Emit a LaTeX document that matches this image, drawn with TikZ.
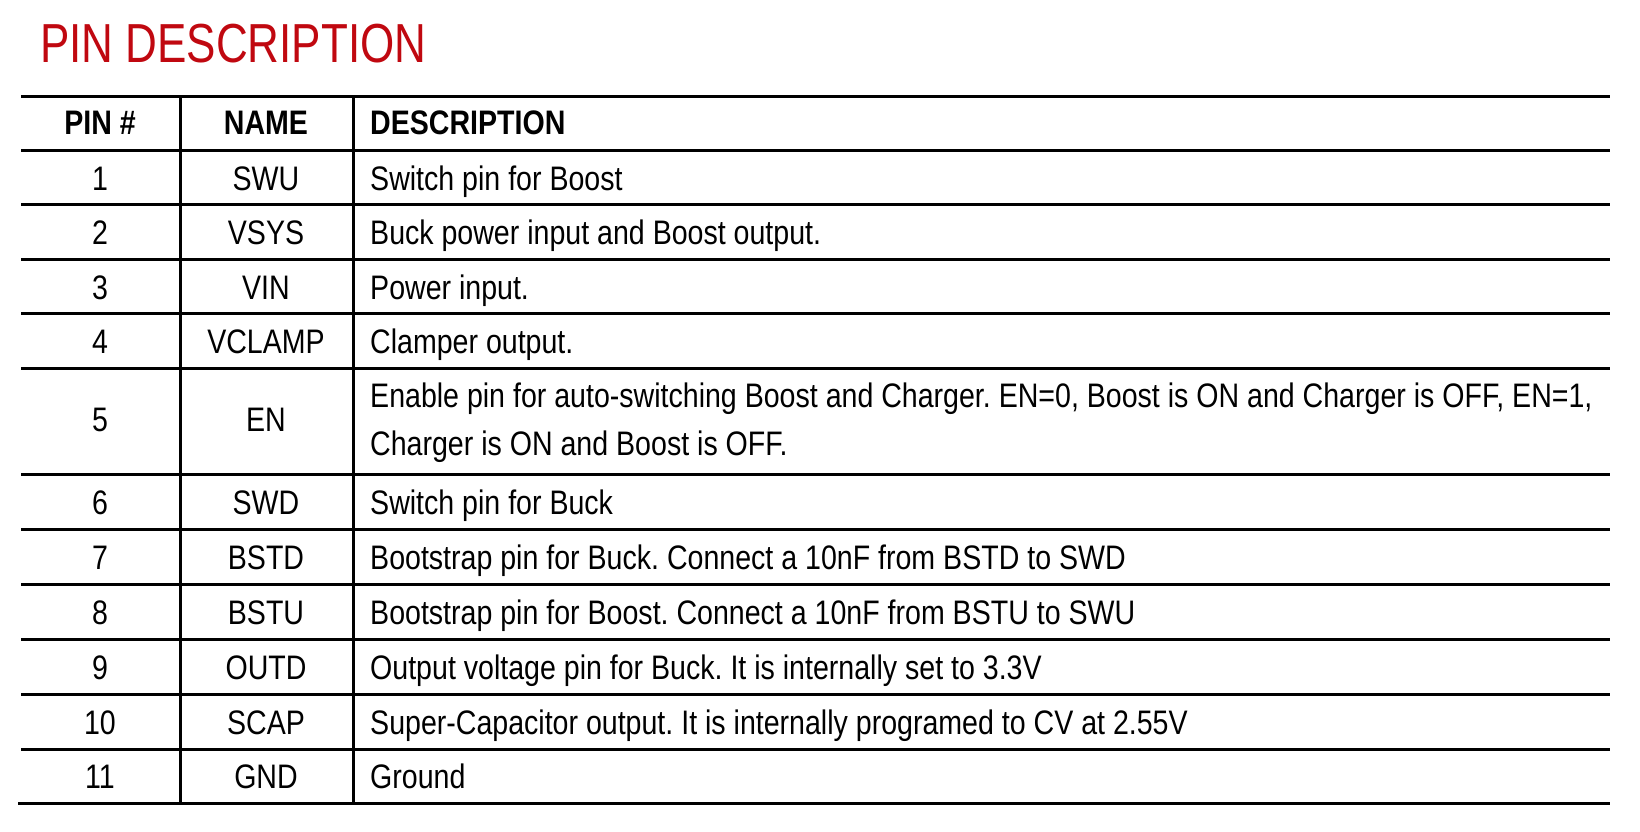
\documentclass[tikz,border=0pt]{standalone}
\usepackage{fontspec}
\setmainfont{Liberation Sans}[FakeStretch=0.84]
\newfontfamily\titlefont{Liberation Sans}[FakeStretch=0.80]
\definecolor{titlered}{RGB}{192,8,16}
\begin{document}
\frenchspacing
\begin{tikzpicture}[x=1pt,y=-1pt,
  cell/.style={anchor=base,inner sep=0pt,font=\fontsize{34}{40}\selectfont},
  head/.style={cell,font=\fontsize{34}{40}\selectfont\bfseries},
  rule/.style={line width=3pt}]
\useasboundingbox (0,0) rectangle (1640,832);
\node[anchor=base west,inner sep=0pt,text=titlered,font=\titlefont\fontsize{55}{60}\selectfont] (title) at (40,63) {PIN DESCRIPTION};
% rules
\foreach \yy in {97,150,204.5,259,313.5,368,474.5,529,584,639,694,749}
  \draw[rule] (21,\yy) -- (1610,\yy);
\draw[rule] (18,803) -- (1610,803);
\draw[rule] (180,97) -- (180,803);
\draw[rule] (353,97) -- (353,803);
% header
\node[head] (hpin) at (100,135) {PIN \#};
\node[head] (hname) at (266,135) {NAME};
\node[head,anchor=base west] (hdesc) at (370,135) {DESCRIPTION};
% rows
\node[cell] (p1) at (100,190) {1};
\node[cell] (n1) at (266,190) {SWU};
\node[cell,anchor=base west] (d1) at (370,190) {Switch pin for Boost};
\node[cell] (p2) at (100,244.5) {2};
\node[cell] (n2) at (266,244.5) {VSYS};
\node[cell,anchor=base west] (d2) at (370,244.5) {Buck power input and Boost output.};
\node[cell] (p3) at (100,299) {3};
\node[cell] (n3) at (266,299) {VIN};
\node[cell,anchor=base west] (d3) at (370,299) {Power input.};
\node[cell] (p4) at (100,353.5) {4};
\node[cell] (n4) at (266,353.5) {VCLAMP};
\node[cell,anchor=base west] (d4) at (370,353.5) {Clamper output.};
\node[cell] (p5) at (100,431) {5};
\node[cell] (n5) at (266,431) {EN};
\node[cell,anchor=base west] (d5a) at (370,407) {Enable pin for auto-switching Boost and Charger. EN=0, Boost is ON and Charger is OFF, EN=1,};
\node[cell,anchor=base west] (d5b) at (370,455) {Charger is ON and Boost is OFF.};
\node[cell] (p6) at (100,514.5) {6};
\node[cell] (n6) at (266,514.5) {SWD};
\node[cell,anchor=base west] (d6) at (370,514.5) {Switch pin for Buck};
\node[cell] (p7) at (100,569) {7};
\node[cell] (n7) at (266,569) {BSTD};
\node[cell,anchor=base west] (d7) at (370,569) {Bootstrap pin for Buck. Connect a 10nF from BSTD to SWD};
\node[cell] (p8) at (100,624) {8};
\node[cell] (n8) at (266,624) {BSTU};
\node[cell,anchor=base west] (d8) at (370,624) {Bootstrap pin for Boost. Connect a 10nF from BSTU to SWU};
\node[cell] (p9) at (100,679) {9};
\node[cell] (n9) at (266,679) {OUTD};
\node[cell,anchor=base west] (d9) at (370,679) {Output voltage pin for Buck. It is internally set to 3.3V};
\node[cell] (p10) at (100,734) {10};
\node[cell] (n10) at (266,734) {SCAP};
\node[cell,anchor=base west] (d10) at (370,734) {Super-Capacitor output. It is internally programed to CV at 2.55V};
\node[cell] (p11) at (100,788) {11};
\node[cell] (n11) at (266,788) {GND};
\node[cell,anchor=base west] (d11) at (370,788) {Ground};
\end{tikzpicture}
\end{document}
